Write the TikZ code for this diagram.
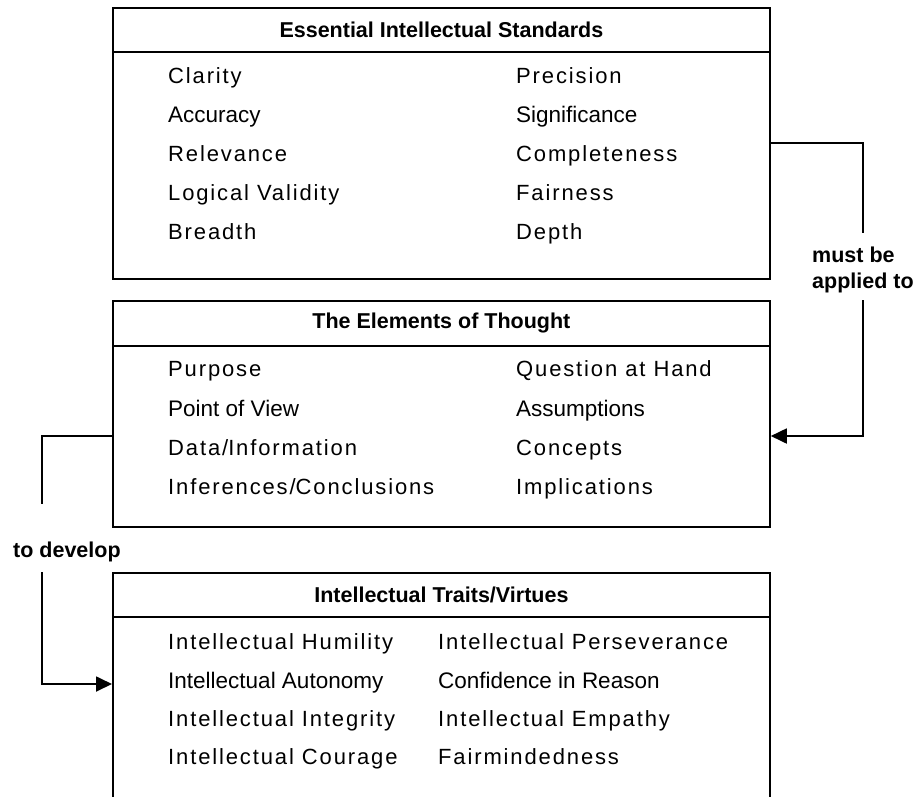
\documentclass[tikz,border=0pt]{standalone}
\usepackage{fontspec}
\setmainfont{Liberation Sans}
\usetikzlibrary{arrows.meta}

\tikzset{
  panel/.style={draw,line width=1.8pt,minimum width=657pt,inner sep=0pt,anchor=north west},
  head/.style={inner sep=0pt,font=\fontsize{21.5}{26}\selectfont\bfseries},
  item/.style={anchor=west,inner sep=0pt,text height=15.8pt,text depth=0pt,font=\fontsize{22}{26}\selectfont},
  loose/.style={font=\fontsize{22}{26}\selectfont\addfontfeature{LetterSpace=8.5}},
  tight/.style={font=\fontsize{22.5}{26}\selectfont},
  link/.style={line width=1.8pt},
  tip/.style={-{Triangle[length=16pt,width=15pt]}},
}

\begin{document}
\begin{tikzpicture}[x=1pt,y=-1pt]
\useasboundingbox (0,0) rectangle (919,796);
\clip (0,0) rectangle (919,796);

% the three panels
\node[panel,minimum height=271pt] (std) at (112,7) {};
\node[panel,minimum height=226pt] (elem) at (112,300) {};
\node[panel,minimum height=250pt] (vir) at (112,572) {};

\node[head] (stdhead) at ([yshift=-23pt]std.north) {Essential Intellectual Standards};
\node[head] (elemhead) at ([yshift=-23pt]elem.north) {The Elements of Thought};
\node[head] (virhead) at ([yshift=-23pt]vir.north) {Intellectual Traits/Virtues};

\draw[link] ([yshift=-45pt]std.north west) -- ([yshift=-45pt]std.north east);
\draw[link] ([yshift=-46pt]elem.north west) -- ([yshift=-46pt]elem.north east);
\draw[link] ([yshift=-45pt]vir.north west) -- ([yshift=-45pt]vir.north east);

% entries, two columns per panel
\foreach \l/\r/\s [count=\i] in {Clarity/Precision/loose, Accuracy/Significance/tight,
    Relevance/Completeness/loose, Logical Validity/Fairness/loose, Breadth/Depth/loose}{
  \node[item,\s] (stdL\i) at (168,37+39*\i) {\l};
  \node[item,\s] (stdR\i) at (516,37+39*\i) {\r};
}
\foreach \l/\r/\s [count=\i] in {Purpose/Question at Hand/loose, Point of View/Assumptions/tight,
    Data\slash Information/Concepts/loose, Inferences\slash Conclusions/Implications/loose}{
  \node[item,\s] (elemL\i) at (168,329.7+39.3*\i) {\l};
  \node[item,\s] (elemR\i) at (516,329.7+39.3*\i) {\r};
}
\foreach \l/\r/\s [count=\i] in {Intellectual Humility/Intellectual Perseverance/loose,
    Intellectual Autonomy/Confidence in Reason/tight,
    Intellectual Integrity/Intellectual Empathy/loose,
    Intellectual Courage/Fairmindedness/loose}{
  \node[item,\s] (virL\i) at (168,603.7+38.3*\i) {\l};
  \node[item,\s] (virR\i) at (438,603.7+38.3*\i) {\r};
}

% connector labels
\node[head,anchor=north west,align=left] (apply) at (812,247) {must be\\applied to};
\node[head,anchor=base west] (develop) at (13,557) {to develop};

\coordinate (applytop) at (863,233);
\coordinate (applybot) at (863,300);
\coordinate (devtop) at (42,504);
\coordinate (devbot) at (42,572);

\draw[link] (std.east |- 0,143) -| (applytop);
\draw[link,tip] (applybot) |- (elem.east |- 0,436);
\draw[link] (elem.west |- 0,436) -| (devtop);
\draw[link,tip] (devbot) |- (vir.west |- 0,684);
\end{tikzpicture}
\end{document}
